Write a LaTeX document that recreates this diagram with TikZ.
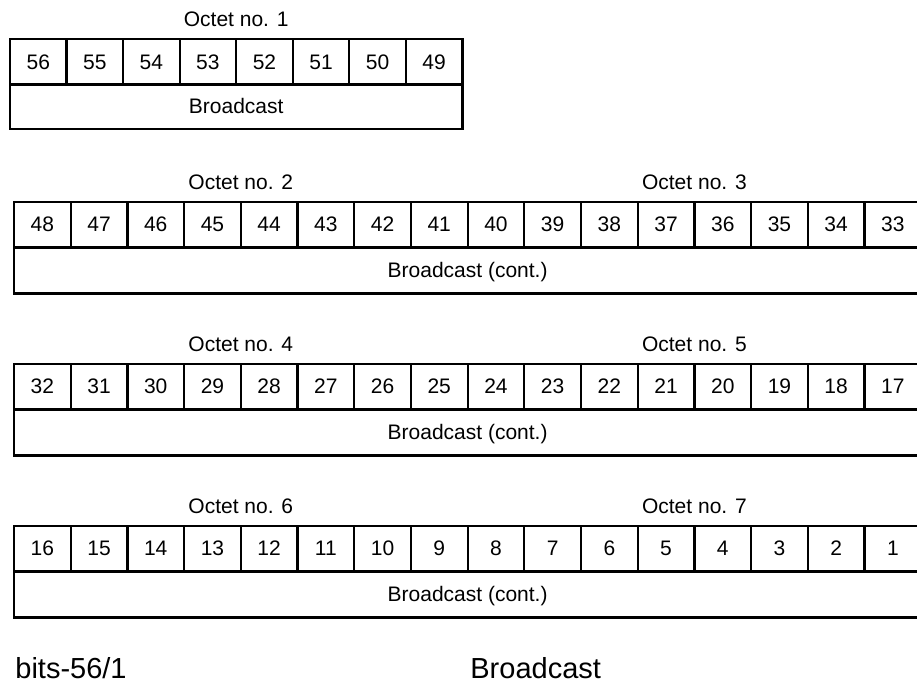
\documentclass[tikz,border=0pt]{standalone}
\usepackage{fontspec}
\setmainfont{Liberation Sans}
\usetikzlibrary{positioning}
\tikzset{
  bitcell/.style={draw, line width=1.1pt, minimum width=28.35pt, minimum height=22.75pt,
                  inner sep=0pt, text height=0.72em, text depth=0pt,
                  font=\fontsize{10.5}{12}\selectfont},
  fieldbox/.style={bitcell, minimum height=23pt},
  octlbl/.style={anchor=base, inner sep=0pt, font=\fontsize{10.5}{12}\selectfont},
  caption/.style={anchor=base west, inner sep=0pt, font=\fontsize{14.5}{17}\selectfont}
}

\begin{document}
\begin{tikzpicture}[x=0.5pt,y=-0.5pt]
  \useasboundingbox (0,0) rectangle (917,686);
  \clip (0,0) rectangle (917,686);

  % first octet
  \foreach \i in {0,...,7} {
    \pgfmathtruncatemacro{\bit}{56-\i}
    \node[bitcell, minimum width=28.275pt] (b\bit) at ({10+56.55*(\i+0.5)}, 61.8) {\bit};
  }
  \node[fieldbox, minimum width=226.2pt, minimum height=22.65pt] (bc) at (236.2, 106.7) {Broadcast};
  \node[octlbl] (oct1) at (236.2, 26) {Octet no. 1};

  % octets 2 to 7, two per row
  \foreach \r/\ry/\oa/\ob in {0/202/2/3, 1/364/4/5, 2/526/6/7} {
    \foreach \i in {0,...,15} {
      \pgfmathtruncatemacro{\bit}{48-16*\r-\i}
      \node[bitcell] (b\bit) at ({14+56.7*(\i+0.5)}, {\ry+22.75}) {\bit};
    }
    \node[fieldbox, minimum width=453.6pt] (bc\r) at (467.6, {\ry+45.5+23}) {Broadcast (cont.)};
    \node[octlbl] (oct\oa) at (240.8, {\ry-13}) {Octet no. \oa};
    \node[octlbl] (oct\ob) at (694.4, {\ry-13}) {Octet no. \ob};
  }

  \node[caption] (bits) at (15, 678) {bits-56/1};
  \node[caption] (name) at (470, 678) {Broadcast};
\end{tikzpicture}
\end{document}
